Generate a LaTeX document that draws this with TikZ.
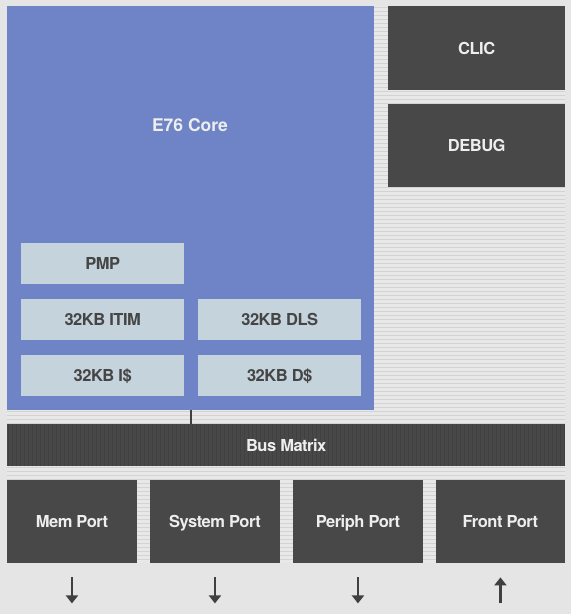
\documentclass[tikz,border=0pt]{standalone}
\usepackage{fontspec}
\setmainfont{TeX Gyre Heros}[LetterSpace=-3]
\newfontfamily\corelblfont{TeX Gyre Heros}
\usetikzlibrary{calc,arrows.meta}
\definecolor{bgc}{HTML}{E5E5E5}
\definecolor{stripebg}{HTML}{E8E8E8}
\definecolor{stripeln}{HTML}{D3D3D3}
\definecolor{corec}{HTML}{6F84C6}
\definecolor{innerc}{HTML}{C5D3DC}
\definecolor{darkc}{HTML}{484848}
\definecolor{busln}{HTML}{404040}
\definecolor{lighttext}{HTML}{EEEEEE}
\definecolor{innertext}{HTML}{454545}
\definecolor{arrowc}{HTML}{404040}
\tikzset{
  lbl/.style={font=\fontsize{16.5}{19}\selectfont\bfseries, text height=12pt, text depth=0pt},
  block/.style={rectangle, inner sep=0pt, anchor=north west, lbl},
  darkbox/.style={block, fill=darkc, text=lighttext},
  innerbox/.style={block, fill=innerc, text=innertext, minimum width=163, minimum height=41},
  portbox/.style={darkbox, minimum width=129.5, minimum height=83},
  portarrow/.style={arrowc, line width=2.4pt, -{Triangle[width=12pt,length=8pt]}},
}
\begin{document}
\begin{tikzpicture}[x=1pt,y=-1pt]
\useasboundingbox (0,0) rectangle (571,614);
\fill[bgc] (0,0) rectangle (571,614);
% striped backplane
\begin{scope}
  \clip (7,6) rectangle (565,563);
  \fill[stripebg] (7,6) rectangle (565,563);
  \foreach \yy in {7.5,11.5,...,563} \draw[stripeln, line width=1.3pt] (7,\yy) -- (565,\yy);
\end{scope}
% core
\node[block, fill=corec, minimum width=367, minimum height=404] (core) at (7,6) {};
\node[font=\corelblfont\fontsize{17.5}{20}\selectfont\bfseries, text height=12.5pt, text depth=0pt, inner sep=0pt, text=lighttext] (coretitle) at (190,125) {E76 Core};
\node[innerbox] (pmp) at (21,243) {PMP};
\node[innerbox] (itim) at (21,299) {32KB ITIM};
\node[innerbox] (icache) at (21,355) {32KB I\$};
\node[innerbox] (dls) at (198,299) {32KB DLS};
\node[innerbox] (dcache) at (198,355) {32KB D\$};
% right column
\node[darkbox, minimum width=177, minimum height=84] (clic) at (388,6) {CLIC};
\node[darkbox, minimum width=177, minimum height=83] (debug) at (388,104) {DEBUG};
% bus matrix
\node[darkbox, minimum width=558, minimum height=42,
  path picture={\foreach \xx in {1,5,...,560} \draw[busln, line width=1pt]
    ([xshift=\xx]path picture bounding box.south west) -- ([xshift=\xx]path picture bounding box.north west);}
  ] (bus) at (7,424) {};
\node[lbl, text=lighttext] (bustitle) at (bus.center) {Bus Matrix};
% connector core -> bus
\coordinate (busconn) at ($(itim.east)!0.5!(dls.west)$);
\draw[arrowc, line width=2pt] (busconn |- core.south) -- (busconn |- bus.north);
% ports
\node[portbox] (mem) at (7,480) {Mem Port};
\node[portbox] (sys) at (150,480) {System Port};
\node[portbox] (periph) at (293,480) {Periph Port};
\node[portbox] (front) at (435.5,480) {Front Port};
% port arrows
\draw[portarrow] ([yshift=-14]mem.south) -- ([yshift=-40]mem.south);
\draw[portarrow] ([yshift=-14]sys.south) -- ([yshift=-40]sys.south);
\draw[portarrow] ([yshift=-14]periph.south) -- ([yshift=-40]periph.south);
\draw[portarrow] ([yshift=-40]front.south) -- ([yshift=-14]front.south);
\end{tikzpicture}
\end{document}
